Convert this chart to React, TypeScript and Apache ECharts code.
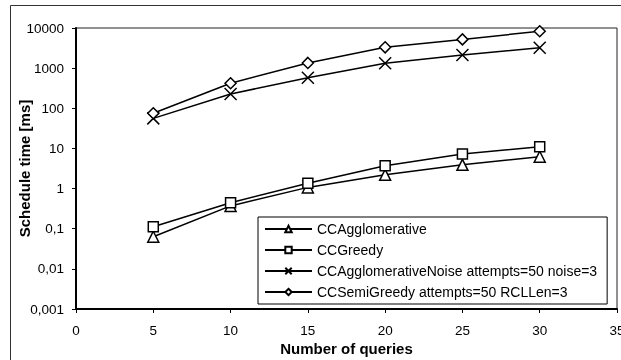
import React, { useEffect, useRef } from "react";
import * as echarts from "echarts";

const queries = [5, 10, 15, 20, 25, 30];
const ccAgglomerative = [0.063, 0.37, 1.07, 2.2, 3.9, 6.2];
const ccGreedy = [0.112, 0.445, 1.35, 3.7, 7.3, 11];
const ccAggNoise = [56, 227, 579, 1320, 2128, 3236];
const ccSemiGreedy = [75, 420, 1350, 3300, 5200, 8300];
const seriesNames = [
  "CCAgglomerative",
  "CCGreedy",
  "CCAgglomerativeNoise attempts=50 noise=3",
  "CCSemiGreedy attempts=50 RCLLen=3",
];

const FONT = "'Liberation Sans', Arial, sans-serif";

export default function App() {
  const ref = useRef<HTMLDivElement>(null);
  useEffect(() => {
    if (!ref.current) return;
    const chart = echarts.init(ref.current, undefined, { renderer: "svg" });
    const pair = (vals: number[]) => queries.map((q, i) => [q, vals[i]]);
    const mk = (name: string, vals: number[], symbol: string, size: number) => ({
      name,
      type: "line",
      data: pair(vals),
      symbol,
      symbolSize: size,
      showAllSymbol: true,
      lineStyle: { color: "#000", width: 1.5 },
      itemStyle: { color: "#fff", borderColor: "#000", borderWidth: 1.5 },
      emphasis: { disabled: true },
    });
    chart.setOption({
      animation: false,
      textStyle: { fontFamily: FONT },
      grid: {
        left: 76,
        right: 4,
        top: 28,
        bottom: 51,
        outerBoundsMode: "none",
        containLabel: false,
        show: true,
        borderColor: "#222",
        borderWidth: 1,
        backgroundColor: "transparent",
      },
      graphic: [
        {
          type: "rect",
          shape: { x: 10.5, y: 5.5, width: 700, height: 400 },
          style: { fill: "none", stroke: "#333", lineWidth: 1 },
          silent: true,
        },
      ],
      legend: {
        orient: "vertical",
        left: 258,
        top: 217,
        padding: [5, 10, 5, 6],
        itemWidth: 47,
        itemHeight: 8,
        itemGap: 7,
        borderColor: "#000",
        borderWidth: 1,
        backgroundColor: "#fff",
        textStyle: { fontFamily: FONT, fontSize: 14, color: "#000" },
        data: seriesNames,
      },
      xAxis: {
        type: "value",
        min: 0,
        max: 35,
        interval: 5,
        name: "Number of queries",
        nameLocation: "middle",
        nameGap: 32,
        nameMoveOverlap: false,
        nameTextStyle: {
          fontFamily: FONT,
          fontSize: 15,
          lineHeight: 14,
          fontWeight: "bold",
          color: "#000",
        },
        axisLine: { show: true, lineStyle: { color: "#000", width: 2 } },
        axisTick: { show: true, length: 4, lineStyle: { color: "#000" } },
        axisLabel: { margin: 15, fontSize: 13.5, lineHeight: 13, color: "#000", fontFamily: FONT },
        splitLine: { show: false },
      },
      yAxis: {
        type: "log",
        logBase: 10,
        min: 0.001,
        max: 10000,
        name: "Schedule time [ms]",
        nameLocation: "middle",
        nameGap: 44,
        nameMoveOverlap: false,
        nameRotate: 90,
        nameTextStyle: { fontFamily: FONT, fontSize: 15, fontWeight: "bold", color: "#000" },
        axisLine: { show: true, lineStyle: { color: "#000", width: 2 } },
        axisTick: { show: true, length: 4, lineStyle: { color: "#000" } },
        axisLabel: {
          margin: 12,
          fontSize: 13.5,
          color: "#000",
          fontFamily: FONT,
          formatter: (v: number) => {
            const s = v >= 1 ? String(Math.round(v)) : String(Number(v.toPrecision(3)));
            return s.replace(".", ",");
          },
        },
        splitLine: { show: false },
      },
      series: [
        mk(seriesNames[0], ccAgglomerative, "triangle", 11),
        mk(seriesNames[1], ccGreedy, "rect", 10),
        mk(seriesNames[2], ccAggNoise, "path://M0,0L10,10M10,0L0,10", 12),
        mk(seriesNames[3], ccSemiGreedy, "diamond", 11),
      ],
    });
    return () => chart.dispose();
  }, []);
  return (
    <div
      ref={ref}
      style={{ position: "fixed", left: 0, top: 0, width: 621, height: 360, overflow: "hidden" }}
    />
  );
}
